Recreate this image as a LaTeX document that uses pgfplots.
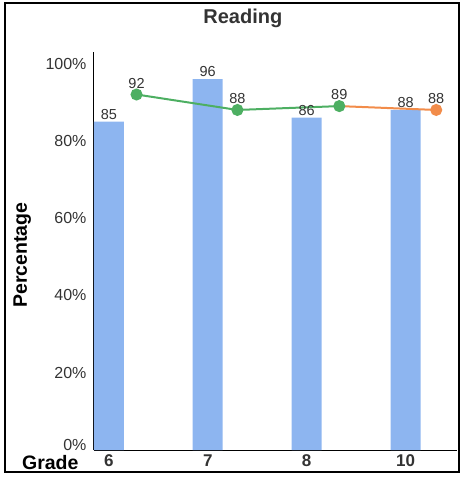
\documentclass[border=0pt]{standalone}
\usepackage{pgfplots}
\pgfplotsset{compat=1.18}
\usepackage{fontspec}
\setmainfont{Liberation Sans}
\definecolor{barblue}{HTML}{8DB5F0}
\definecolor{lgreen}{HTML}{4DAF62}
\definecolor{lorange}{HTML}{F28C4A}
\definecolor{txt}{HTML}{333333}
\begin{document}
\begin{tikzpicture}
\begin{axis}[
  width=363pt, height=398pt, scale only axis,
  xmin=-0.15, xmax=3.52, ymin=0, ymax=103,
  axis x line*=bottom, axis y line*=left,
  axis line style={-, black, line width=1pt},
  xtick={0,1,2,3}, xticklabels={6,7,8,10},
  ytick={0,20,40,60,80,100},
  yticklabels={\raisebox{11pt}{0\%},20\%,40\%,60\%,80\%,100\%},
  major tick length=0pt,
  /pgf/number format/assume math mode=true,
  xticklabel style={font=\bfseries\fontsize{17}{19}\selectfont, text=txt, yshift=-1pt},
  yticklabel style={font=\fontsize{16}{18}\selectfont, text=txt, xshift=-4pt},
  ylabel={Percentage},
  ylabel style={font=\bfseries\fontsize{19.5}{21}\selectfont, at={(axis description cs:-0.198,0.49)}, anchor=center},
  xlabel={Grade},
  xlabel style={font=\bfseries\fontsize{19.5}{21}\selectfont, at={(axis description cs:0,0)}, anchor=east, xshift=-12pt, yshift=-13pt},
  title={Reading},
  title style={font=\bfseries\fontsize{20}{22}\selectfont, text=txt, at={(axis description cs:0.41,1)}, anchor=center, yshift=28pt},
  clip=false,
]
\addplot[ybar, bar width=30pt, fill=barblue, draw=none,
  nodes near coords, every node near coord/.style={font=\fontsize{14.5}{16}\selectfont, text=txt, anchor=south, inner sep=2pt}]
  coordinates {(0,85) (1,96) (2,86) (3,88)};
\addplot[lorange, line width=2pt, mark=*, mark indices={2}, mark size=5pt,
  point meta=explicit symbolic,
  nodes near coords, every node near coord/.style={font=\fontsize{14.5}{16}\selectfont, text=txt, anchor=south, inner sep=5pt}]
  coordinates {(2.33,89) [] (3.31,88) [88]};
\addplot[lgreen, line width=2pt, mark=*, mark size=5pt,
  nodes near coords, every node near coord/.style={font=\fontsize{14.5}{16}\selectfont, text=txt, anchor=south, inner sep=5pt}]
  coordinates {(0.28,92) (1.30,88) (2.33,89)};
\coordinate (O) at (rel axis cs:0,0);
\end{axis}
\path (O) ++(-94pt,-27pt) rectangle ++(460pt,477pt);
\draw[line width=1.5pt, black] ([shift={(-89pt,-22pt)}]O) rectangle ([shift={(365pt,447pt)}]O);
\end{tikzpicture}
\end{document}
